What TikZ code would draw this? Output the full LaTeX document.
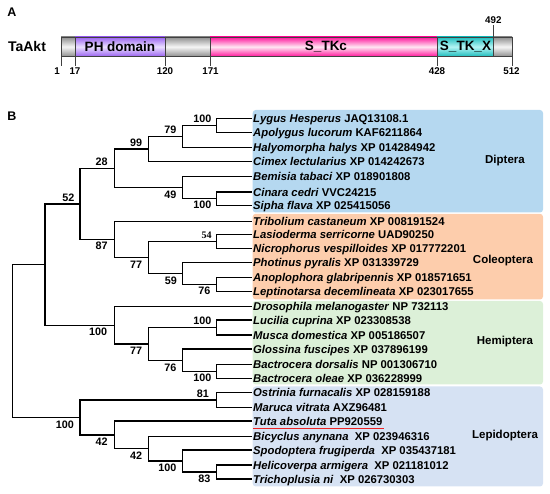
\documentclass[tikz,border=0pt]{standalone}
\usepackage{fontspec}
\setmainfont{Liberation Sans}
\newfontfamily\tnrfont{Liberation Serif}
\definecolor{dipc}{HTML}{B5D8F0}
\definecolor{colc}{HTML}{FDCDAC}
\definecolor{hemc}{HTML}{DCF0D8}
\definecolor{lepc}{HTML}{D6E2F3}
\definecolor{grayE}{HTML}{8E8E8E}
\definecolor{grayC}{HTML}{F6F6F6}
\definecolor{phE}{HTML}{9A62F0}
\definecolor{phC}{HTML}{EADFFF}
\definecolor{tkE}{HTML}{FF169C}
\definecolor{tkC}{HTML}{FFE6F3}
\definecolor{txE}{HTML}{1CBCBC}
\definecolor{txC}{HTML}{B4F4F4}
\definecolor{ulc}{HTML}{EE2222}
\begin{document}
\begin{tikzpicture}[x=1pt,y=-1pt,
  br/.style={line width=1.4pt,black},
  leaf/.style={anchor=west,inner xsep=1pt,inner ysep=0pt,text height=8.3pt,text depth=0pt,font=\fontsize{11.3}{13}\selectfont\bfseries},
  sp/.style={inner sep=0pt,font=\fontsize{10.8}{12}\selectfont\bfseries},
  spr/.style={inner sep=0pt,font=\tnrfont\fontsize{10}{12}\selectfont\bfseries},
  grp/.style={inner sep=0pt,font=\fontsize{11.5}{13}\selectfont\bfseries},
  grpbox/.style={rounded corners=3pt,draw=none},
  tk/.style={inner sep=0pt,font=\fontsize{9.8}{11}\selectfont\bfseries},
  dom/.style={inner sep=0pt,font=\fontsize{13.5}{15}\selectfont\bfseries},
  outl/.style={draw=black!75,line width=0.7pt},
  panel/.style={inner sep=0pt,font=\fontsize{12.5}{14}\selectfont\bfseries}]
\useasboundingbox (0,0) rectangle (550,494);
% ---------------- Panel A ----------------
\node[panel] (pA) at (12,12) {A};
\node[inner sep=0pt,font=\fontsize{14}{16}\selectfont\bfseries] (taakt) at (27,47) {TaAkt};
\shade[top color=grayE,bottom color=grayE,middle color=grayC] (61,37) rectangle (75,56.5);
\shade[top color=phE,bottom color=phE,middle color=phC] (75,37) rectangle (165,56.5);
\shade[top color=grayE,bottom color=grayE,middle color=grayC] (165,37) rectangle (210,56.5);
\shade[top color=tkE,bottom color=tkE,middle color=tkC] (210,37) rectangle (437,56.5);
\shade[top color=txE,bottom color=txE,middle color=txC] (437,37) rectangle (493,56.5);
\shade[top color=grayE,bottom color=grayE,middle color=grayC] (493,37) rectangle (512,56.5);
\draw[outl] (61,37) rectangle (512,56.5);
\foreach \xx in {75,165,210,437,493} {\draw[outl] (\xx,37) -- (\xx,56.5);}
\foreach \xx in {61,75,165,210,437,512} {\draw[outl] (\xx,56.5) -- (\xx,66);}
\draw[outl] (493,37) -- (493,25);
\node[dom] (ph) at (120,47) {PH domain};
\node[dom] (stkc) at (326,47) {S\_TKc};
\node[dom] (stkx) at (465.5,47) {S\_TK\_X};
\node[tk,anchor=north] (t1) at (57,67.5) {1};
\node[tk,anchor=north] (t17) at (75,67.5) {17};
\node[tk,anchor=north] (t120) at (165,67.5) {120};
\node[tk,anchor=north] (t171) at (210.5,67.5) {171};
\node[tk,anchor=north] (t428) at (437,67.5) {428};
\node[tk,anchor=north] (t512) at (511.5,67.5) {512};
\node[tk,anchor=south] (t492) at (493.3,24) {492};
% ---------------- Panel B ----------------
\node[panel] (pB) at (12,116) {B};
\fill[dipc,grpbox] (252.7,110) rectangle (543,212.5);
\fill[colc,grpbox] (252.7,213.8) rectangle (543,299.5);
\fill[hemc,grpbox] (252.7,301) rectangle (543,384.5);
\fill[lepc,grpbox] (252.7,386.5) rectangle (543,486.5);
\node[grp] (gdip) at (505,161) {Diptera};
\node[grp] (gcol) at (503,260.7) {Coleoptera};
\node[grp] (ghem) at (505,341.7) {Hemiptera};
\node[grp] (glep) at (505,435.7) {Lepidoptera};
% leaves
\node[leaf] (lygus) at (252,118.3) {\textit{Lygus Hesperus} JAQ13108.1};
\node[leaf] (apol) at (252,132.7) {\textit{Apolygus lucorum} KAF6211864};
\node[leaf] (haly) at (252,147.4) {\textit{Halyomorpha halys} XP 014284942};
\node[leaf] (cimex) at (252,161.4) {\textit{Cimex lectularius} XP 014242673};
\node[leaf] (bemi) at (252,176.7) {\textit{Bemisia tabaci} XP 018901808};
\node[leaf] (cina) at (252,192) {\textit{Cinara cedri} VVC24215};
\node[leaf] (sipha) at (252,205.5) {\textit{Sipha flava} XP 025415056};
\node[leaf] (trib) at (252,221.7) {\textit{Tribolium castaneum} XP 008191524};
\node[leaf] (lasio) at (252,234.5) {\textit{Lasioderma serricorne} UAD90250};
\node[leaf] (nicro) at (252,248.3) {\textit{Nicrophorus vespilloides} XP 017772201};
\node[leaf] (phot) at (252,262.3) {\textit{Photinus pyralis} XP 031339729};
\node[leaf] (anop) at (252,277.5) {\textit{Anoplophora glabripennis} XP 018571651};
\node[leaf] (lept) at (252,291.3) {\textit{Leptinotarsa decemlineata} XP 023017655};
\node[leaf] (dros) at (252,306.7) {\textit{Drosophila melanogaster} NP 732113};
\node[leaf] (luci) at (252,320.2) {\textit{Lucilia cuprina} XP 023308538};
\node[leaf] (musca) at (252,335) {\textit{Musca domestica} XP 005186507};
\node[leaf] (gloss) at (252,349.2) {\textit{Glossina fuscipes} XP 037896199};
\node[leaf] (bdor) at (252,364.3) {\textit{Bactrocera dorsalis} NP 001306710};
\node[leaf] (bole) at (252,378.8) {\textit{Bactrocera oleae} XP 036228999};
\node[leaf] (ostr) at (252,392.4) {\textit{Ostrinia furnacalis} XP 028159188};
\node[leaf] (maru) at (252,407.5) {\textit{Maruca vitrata} AXZ96481};
\node[leaf] (tuta) at (252,421) {\textit{Tuta absoluta} PP920559};
\node[leaf] (bicy) at (252,436.5) {\textit{Bicyclus anynana}\ \ XP 023946316};
\node[leaf] (spod) at (252,450.2) {\textit{Spodoptera frugiperda}\ \ XP 035437181};
\node[leaf] (heli) at (252,465) {\textit{Helicoverpa armigera}\ \ XP 021181012};
\node[leaf] (tric) at (252,479) {\textit{Trichoplusia ni}\ \ XP 026730303};
\draw[ulc,line width=1.1pt] ([xshift=1pt,yshift=-3pt]tuta.base west) -- ([yshift=-3pt]tuta.base east);
% internal nodes
\coordinate (a1) at (216.7,125.5);
\coordinate (a2) at (182.7,136.5);
\coordinate (a3) at (148.3,149);
\coordinate (a4) at (216.7,198.75);
\coordinate (a5) at (182.7,187.7);
\coordinate (a6) at (114.3,168.3);
\coordinate (c1) at (216.7,241.4);
\coordinate (c2) at (216.7,284.4);
\coordinate (c3) at (182.7,273.35);
\coordinate (c4) at (148.3,257.4);
\coordinate (c5) at (114.3,239.55);
\coordinate (c6) at (80,203.9);
\coordinate (h1) at (216.7,327.6);
\coordinate (h2) at (216.7,371.55);
\coordinate (h3) at (182.7,360.4);
\coordinate (h4) at (148.3,344);
\coordinate (h5) at (114.3,325.35);
\coordinate (n45) at (45,264.6);
\coordinate (l1) at (216.7,399.95);
\coordinate (l2) at (216.7,472);
\coordinate (l3) at (182.7,461.1);
\coordinate (l4) at (148.3,448.8);
\coordinate (l5) at (114.3,434.9);
\coordinate (l6) at (80,417.4);
\coordinate (root) at (12.3,341);
% branches
\draw[br] (a1) |- (lygus.west); \draw[br] (a1) |- (apol.west);
\draw[br] (a2) |- (a1); \draw[br] (a2) |- (haly.west);
\draw[br] (a3) |- (a2); \draw[br] (a3) |- (cimex.west);
\draw[br] (a4) |- (cina.west); \draw[br] (a4) |- (sipha.west);
\draw[br] (a5) |- (bemi.west); \draw[br] (a5) |- (a4);
\draw[br] (a6) |- (a3); \draw[br] (a6) |- (a5);
\draw[br] (c1) |- (lasio.west); \draw[br] (c1) |- (nicro.west);
\draw[br] (c2) |- (anop.west); \draw[br] (c2) |- (lept.west);
\draw[br] (c3) |- (phot.west); \draw[br] (c3) |- (c2);
\draw[br] (c4) |- (c1); \draw[br] (c4) |- (c3);
\draw[br] (c5) |- (trib.west); \draw[br] (c5) |- (c4);
\draw[br] (c6) |- (a6); \draw[br] (c6) |- (c5);
\draw[br] (h1) |- (luci.west); \draw[br] (h1) |- (musca.west);
\draw[br] (h2) |- (bdor.west); \draw[br] (h2) |- (bole.west);
\draw[br] (h3) |- (gloss.west); \draw[br] (h3) |- (h2);
\draw[br] (h4) |- (h1); \draw[br] (h4) |- (h3);
\draw[br] (h5) |- (dros.west); \draw[br] (h5) |- (h4);
\draw[br] (n45) |- (c6); \draw[br] (n45) |- (h5);
\draw[br] (l1) |- (ostr.west); \draw[br] (l1) |- (maru.west);
\draw[br] (l2) |- (heli.west); \draw[br] (l2) |- (tric.west);
\draw[br] (l3) |- (spod.west); \draw[br] (l3) |- (l2);
\draw[br] (l4) |- (bicy.west); \draw[br] (l4) |- (l3);
\draw[br] (l5) |- (tuta.west); \draw[br] (l5) |- (l4);
\draw[br] (l6) |- (l1); \draw[br] (l6) |- (l5);
\draw[br] (root) |- (n45); \draw[br] (root) |- (l6);
% support values
\node[sp,anchor=south east] (sa1) at ([xshift=-5pt,yshift=2.5pt]a1) {100};
\node[sp,anchor=south east] (sa2) at ([xshift=-6pt,yshift=2.5pt]a2) {79};
\node[sp,anchor=south east] (sa3) at ([xshift=-6pt,yshift=2.5pt]a3) {99};
\node[sp,anchor=north east] (sa4) at ([xshift=-5pt,yshift=-2.5pt]a4) {100};
\node[sp,anchor=north east] (sa5) at ([xshift=-6pt,yshift=-3pt]a5) {49};
\node[sp,anchor=south east] (sa6) at ([xshift=-6.5pt,yshift=2.5pt]a6) {28};
\node[spr,anchor=south east] (sc1) at ([xshift=-5pt,yshift=2.5pt]c1) {54};
\node[sp,anchor=north east] (sc2) at ([xshift=-6pt,yshift=-2.5pt]c2) {76};
\node[sp,anchor=north east] (sc3) at ([xshift=-5.5pt,yshift=-3pt]c3) {59};
\node[sp,anchor=north east] (sc4) at ([xshift=-6pt,yshift=-3pt]c4) {77};
\node[sp,anchor=north east] (sc5) at ([xshift=-6.5pt,yshift=-2.5pt]c5) {87};
\node[sp,anchor=south east] (sc6) at ([xshift=-5.5pt,yshift=2.5pt]c6) {52};
\node[sp,anchor=south east] (sh1) at ([xshift=-5pt,yshift=2.5pt]h1) {100};
\node[sp,anchor=north east] (sh2) at ([xshift=-5pt,yshift=-2.5pt]h2) {100};
\node[sp,anchor=north east] (sh3) at ([xshift=-6pt,yshift=-3pt]h3) {76};
\node[sp,anchor=north east] (sh4) at ([xshift=-6pt,yshift=-3pt]h4) {77};
\node[sp,anchor=north east] (sh5) at ([xshift=-7pt,yshift=-2.5pt]h5) {100};
\node[sp,anchor=south east] (sl1) at ([xshift=-7.5pt,yshift=2.5pt]l1) {81};
\node[sp,anchor=north east] (sl2) at ([xshift=-6pt,yshift=-2.5pt]l2) {83};
\node[sp,anchor=north east] (sl3) at ([xshift=-6pt,yshift=-2.5pt]l3) {100};
\node[sp,anchor=north east] (sl4) at ([xshift=-6pt,yshift=-3pt]l4) {42};
\node[sp,anchor=north east] (sl5) at ([xshift=-6.5pt,yshift=-3pt]l5) {42};
\node[sp,anchor=north east] (sl6) at ([xshift=-6pt,yshift=-3pt]l6) {100};
\end{tikzpicture}
\end{document}
